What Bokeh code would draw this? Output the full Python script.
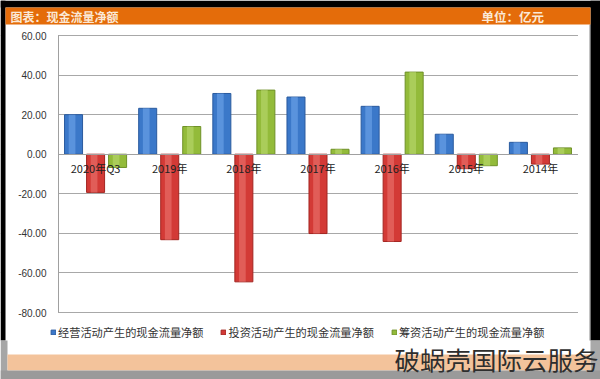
from bokeh.plotting import figure
from bokeh.models import (Range1d, ColumnDataSource, Legend, LegendItem, BoxAnnotation, Label,
                          LinearAxis, FixedTicker, NumeralTickFormatter)
from bokeh.transform import dodge
from bokeh.embed import file_html
from bokeh.resources import INLINE

categories = ["2020年Q3", "2019年", "2018年", "2017年", "2016年", "2015年", "2014年"]
operating = [20.0, 23.2, 30.7, 28.9, 24.2, 10.1, 6.0]
investing = [-19.3, -43.2, -64.5, -40.1, -44.1, -7.3, -5.0]
financing = [-6.7, 14.0, 32.4, 2.5, 41.5, -5.8, 3.2]
series_names = ["经营活动产生的现金流量净额", "投资活动产生的现金流量净额", "筹资活动产生的现金流量净额"]
y_ticks = [-80, -60, -40, -20, 0, 20, 40, 60]
title_text = "图表：现金流量净额"
unit_text = "单位：亿元"
watermark_text = "破蜗壳国际云服务"

W, H = 600, 379
# plot area in pixels (layout only)
PL, PR, PT, PB = 58, 577, 35, 312
n = len(categories)
idx = list(range(n))
ymin, ymax = min(y_ticks), max(y_ticks)
xu = (PR - PL) / n
yu = (PB - PT) / (ymax - ymin)

src = ColumnDataSource(dict(idx=idx, cat=categories, op=operating, inv=investing, fin=financing))

p = figure(width=W, height=H, title=None, output_backend="svg", toolbar_location=None,
           x_range=Range1d(-0.5 - PL / xu, n - 0.5 + (W - PR) / xu),
           y_range=Range1d(ymin - (H - PB) / yu, ymax + PT / yu),
           x_axis_location=None, y_axis_location=None, min_border=0)
p.extra_x_ranges = {"px": Range1d(0, W)}
p.extra_y_ranges = {"px": Range1d(H, 0)}
p.background_fill_color = "white"
p.border_fill_color = "white"
p.outline_line_color = None
p.xgrid.visible = False
p.ygrid.ticker = FixedTicker(ticks=y_ticks)
p.ygrid.grid_line_color = "#A8A8A8"


def pxbox(l, r, t, b, color, level="annotation"):
    p.add_layout(BoxAnnotation(left=l, right=r, top=t, bottom=b, x_range_name="px",
                               y_range_name="px", fill_color=color, fill_alpha=1,
                               line_color=None, level=level))


# keep grid lines inside plot area
pxbox(0, PL - 0.5, PT - 5, PB + 5, "white", "underlay")
pxbox(PR + 0.5, W, PT - 5, PB + 5, "white", "underlay")

yaxis = LinearAxis(ticker=FixedTicker(ticks=y_ticks), formatter=NumeralTickFormatter(format="0.00"),
                   fixed_location=-0.5, bounds=(ymin, ymax))
yaxis.axis_line_color = "#A0A0A0"
yaxis.major_tick_line_color = None
yaxis.minor_tick_line_color = None
yaxis.major_tick_out = 0
yaxis.major_tick_in = 0
yaxis.major_label_standoff = 12
yaxis.major_label_text_font = "Liberation Sans"
yaxis.major_label_text_font_size = "10px"
yaxis.major_label_text_color = "#333333"
p.add_layout(yaxis, "left")

xaxis = LinearAxis(ticker=FixedTicker(ticks=idx), fixed_location=0, bounds=(-0.5, n - 0.5),
                   major_label_overrides={i: c for i, c in zip(idx, categories)})
xaxis.axis_line_color = "#A0A0A0"
xaxis.major_tick_line_color = None
xaxis.minor_tick_line_color = None
xaxis.major_tick_out = 0
xaxis.major_tick_in = 0
xaxis.major_label_standoff = 6
xaxis.major_label_text_font = "Noto Sans CJK SC"
xaxis.major_label_text_font_size = "11px"
xaxis.major_label_text_color = "#222222"
p.add_layout(xaxis, "below")

BW = 0.243
PITCH = 0.297
specs = [("op", -PITCH, "#3B78C9", "#2A5A9E", "#74A9EC"),
         ("inv", 0.0, "#D33A36", "#A32521", "#EC7A75"),
         ("fin", PITCH, "#93BB3A", "#6F9128", "#BEDC74")]
renderers = []
for col, off, fill, line, hi in specs:
    r = p.vbar(x=dodge("idx", off), top=col, bottom=0, width=BW, source=src,
               fill_color=fill, line_color=line, line_width=1)
    p.vbar(x=dodge("idx", off - 0.02), top=col, bottom=0, width=0.09, source=src,
           fill_color=hi, fill_alpha=0.55, line_color=None)
    renderers.append(r)

# frame decorations
pxbox(0, W, 0, 7, "#000000")
pxbox(0, 5, 0, 340, "#000000")
pxbox(588.5, 590, 24, 340, "#C4C4C4")
pxbox(590, W, 0, 340, "#000000")
pxbox(5, 590, 7, 24, "#E46C0A")
pxbox(0, 7, 340, H, "#A6A6A6")
pxbox(590, W, 340, H, "#A9A9A9")
pxbox(7, 590, 354, 370, "#F3C39B")
pxbox(0, W, 370, H, "#9A9A9A")

legend = Legend(items=[LegendItem(label=s, renderers=[r]) for s, r in zip(series_names, renderers)],
                orientation="horizontal", location=(50, H - 340))
legend.margin = 0
legend.padding = 0
legend.spacing = 17
legend.glyph_width = 6
legend.glyph_height = 6
legend.label_height = 14
legend.label_standoff = 2
legend.label_text_font = "Noto Sans CJK SC"
legend.label_text_font_size = "11.2px"
legend.label_text_color = "#333333"
legend.border_line_color = None
legend.background_fill_alpha = 0
p.add_layout(legend, "center")

p.add_layout(Label(x=10, y=16, x_range_name="px", y_range_name="px", text=title_text,
                   text_baseline="middle", text_font="Noto Sans CJK SC", text_font_style="bold",
                   text_font_size="12px", text_color="#FBE9D7"))
p.add_layout(Label(x=481, y=16, x_range_name="px", y_range_name="px", text=unit_text,
                   text_baseline="middle", text_font="Noto Sans CJK SC", text_font_style="bold",
                   text_font_size="12.5px", text_color="#FBE9D7"))
p.add_layout(Label(x=598, y=358, x_range_name="px", y_range_name="px", text=watermark_text,
                   text_align="right", text_baseline="middle", text_font="Noto Sans CJK SC",
                   text_font_size="25.5px", text_color="#2E2E2E"))

open("out.html", "w").write(file_html(p, INLINE))
